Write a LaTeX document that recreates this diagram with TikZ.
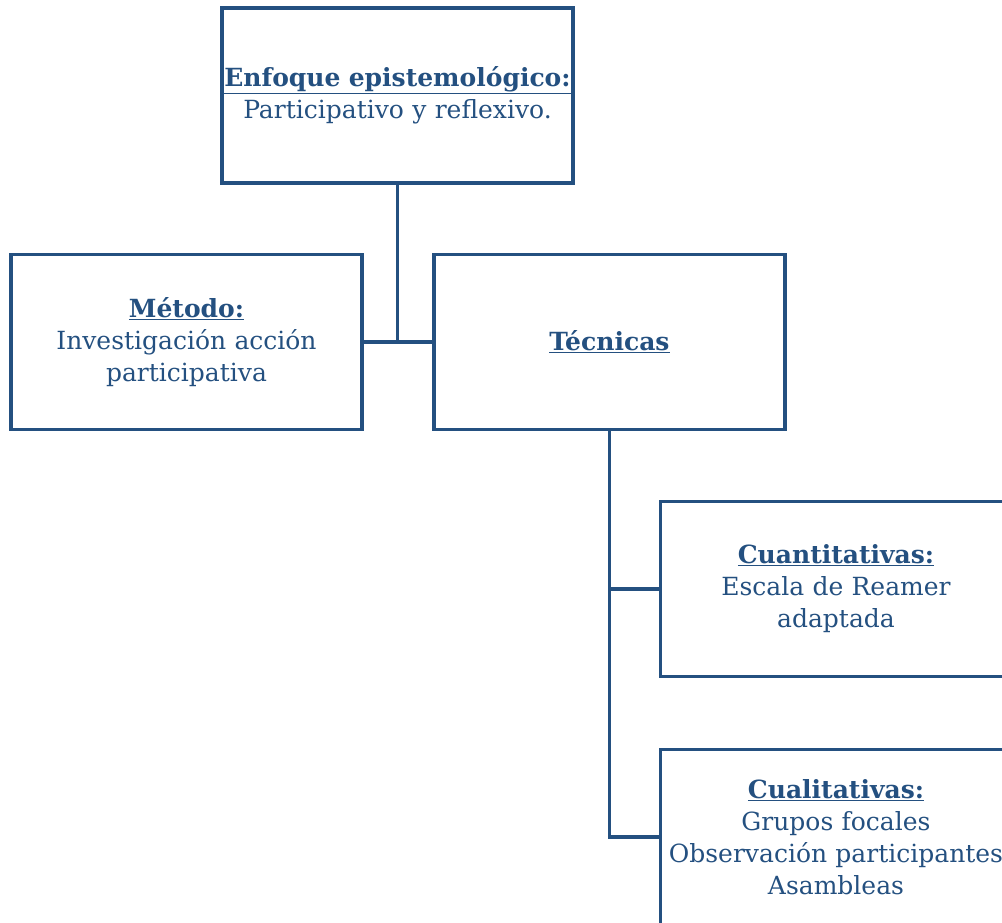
\documentclass[tikz,border=0pt]{standalone}
\usepackage{fontspec}
\setmainfont{DejaVu Serif}
\definecolor{azul}{RGB}{36,80,128}
\begin{document}
\begin{tikzpicture}[x=1pt,y=-1pt]
% Cajas
\tikzset{blue box/.style={rectangle,draw=azul,line width=3.5pt,text width=351pt,minimum height=175pt,align=center,text=azul,font=\fontsize{25}{32}\selectfont,inner sep=0pt},
         blue line/.style={draw=azul,line width=3.5pt}}
\useasboundingbox (0,0) rectangle (1002,922);

\node[blue box] (enfoque) at (397.5,95.5) {\textbf{\underline{Enfoque epistemológico:}}\\Participativo y reflexivo.};
\node[blue box] (metodo) at (186.5,342) {\textbf{\underline{Método:}}\\Investigación acción\\participativa};
\node[blue box] (tecnicas) at (609.5,342) {\textbf{\underline{Técnicas}}};
\node[blue box] (cuanti) at (836,589) {\textbf{\underline{Cuantitativas:}}\\Escala de Reamer\\adaptada};
\node[blue box] (cuali) at (836,837) {\textbf{\underline{Cualitativas:}}\\Grupos focales\\Observación participantes\\Asambleas};

% Lineas
\draw[blue line] (enfoque.south) -- (enfoque.south |- metodo.east) (metodo.east) -- (tecnicas.west);
\draw[blue line] (tecnicas.south) |- (cuanti.west) (tecnicas.south) |- (cuali.west);

\end{tikzpicture}
\end{document}
